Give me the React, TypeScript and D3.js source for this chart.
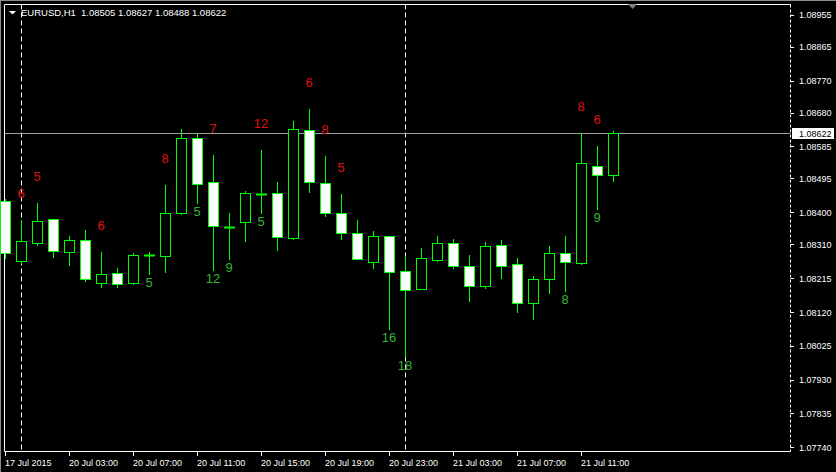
import React from 'react';
import * as d3 from 'd3';

// EURUSD H1 bars, 17 Jul 23:00 .. 21 Jul 13:00
const opens = [1.08432, 1.08262, 1.08313, 1.08380, 1.08288, 1.08321, 1.08202, 1.08229, 1.08202, 1.08280,
  1.08278, 1.08399, 1.08608, 1.08484, 1.08360, 1.08372, 1.08452, 1.08453, 1.08329, 1.08630,
  1.08481, 1.08397, 1.08341, 1.08261, 1.08333, 1.08234, 1.08185, 1.08267, 1.08313, 1.08248,
  1.08194, 1.08307, 1.08254, 1.08146, 1.08214, 1.08285, 1.08258, 1.08529, 1.08505];
const highs = [1.08437, 1.08378, 1.08425, 1.08381, 1.08334, 1.08350, 1.08289, 1.08244, 1.08286, 1.08289,
  1.08477, 1.08634, 1.08620, 1.08561, 1.08397, 1.08460, 1.08575, 1.08484, 1.08656, 1.08690,
  1.08558, 1.08451, 1.08378, 1.08348, 1.08334, 1.08277, 1.08300, 1.08334, 1.08325, 1.08280,
  1.08317, 1.08322, 1.08272, 1.08221, 1.08305, 1.08334, 1.08624, 1.08586, 1.08627];
const lows = [1.08273, 1.08258, 1.08307, 1.08274, 1.08253, 1.08208, 1.08191, 1.08191, 1.08199, 1.08227,
  1.08232, 1.08395, 1.08427, 1.08238, 1.08269, 1.08320, 1.08399, 1.08294, 1.08325, 1.08458,
  1.08390, 1.08326, 1.08269, 1.08244, 1.08072, 1.07994, 1.08184, 1.08263, 1.08244, 1.08151,
  1.08188, 1.08215, 1.08120, 1.08100, 1.08173, 1.08180, 1.08255, 1.08410, 1.08488];
const closes = [1.08285, 1.08319, 1.08375, 1.08291, 1.08321, 1.08214, 1.08226, 1.08200, 1.08280, 1.08279,
  1.08397, 1.08608, 1.08479, 1.08361, 1.08360, 1.08453, 1.08452, 1.08330, 1.08633, 1.08484,
  1.08397, 1.08341, 1.08270, 1.08333, 1.08233, 1.08181, 1.08271, 1.08313, 1.08250, 1.08194,
  1.08305, 1.08250, 1.08146, 1.08212, 1.08285, 1.08261, 1.08538, 1.08504, 1.08622];

// counts printed above highs (red) and below lows (green)
const upperIdx = [1, 2, 6, 10, 13, 16, 19, 20, 21, 36, 37];
const upperText = ['6', '5', '6', '8', '7', '12', '6', '8', '5', '8', '6'];
const lowerIdx = [9, 12, 13, 14, 16, 24, 25, 35, 37];
const lowerText = ['5', '5', '12', '9', '5', '16', '18', '8', '9'];

const priceTicks = [1.08955, 1.08865, 1.08770, 1.08680, 1.08585, 1.08495, 1.08400,
  1.08310, 1.08215, 1.08120, 1.08025, 1.07930, 1.07835, 1.07740];
const timeTickIdx = [0, 4, 8, 12, 16, 20, 24, 28, 32, 36];
const timeTickText = ['17 Jul 2015', '20 Jul 03:00', '20 Jul 07:00', '20 Jul 11:00', '20 Jul 15:00',
  '20 Jul 19:00', '20 Jul 23:00', '21 Jul 03:00', '21 Jul 07:00', '21 Jul 11:00'];
const daySeparators = [1, 25];

const symbol = 'EURUSD,H1';
const lastPrice = 1.08622;

const W = 836;
const H = 472;
const frame = { left: 4.5, top: 4.5, right: 790.5, bottom: 451.5 };
const font = "'Liberation Sans', Arial, sans-serif";

const App: React.FC = () => {
  const x = d3.scaleLinear().domain([0, opens.length - 1]).range([5, 5 + 16 * (opens.length - 1)]);
  const y = d3.scaleLinear().domain([1.07740, 1.08955]).range([447.3, 14.7]);
  const py = (v: number) => Math.round(y(v)) + 0.5;
  const last = opens.length - 1;

  return (
    <svg width={W} height={H} style={{ position: 'absolute', left: 0, top: 0, background: '#000' }}>
      <rect x={0} y={0} width={W} height={H} fill="#000" />
      <line x1={0} x2={W} y1={0.5} y2={0.5} stroke="#8c8c8c" />
      <line x1={0.5} x2={0.5} y1={0} y2={H} stroke="#8c8c8c" />

      {/* period separators */}
      {daySeparators.map(i => (
        <line key={'sep' + i} x1={Math.round(x(i)) + 0.5} x2={Math.round(x(i)) + 0.5}
          y1={frame.top} y2={frame.bottom} stroke="#fff" strokeDasharray="5,3" />
      ))}

      {/* last price line */}
      <line x1={frame.left} x2={frame.right} y1={py(lastPrice)} y2={py(lastPrice)} stroke="#a0a0a0" />

      {/* wicks */}
      {opens.map((o, i) => (
        <line key={'w' + i} x1={Math.round(x(i)) + 0.5} x2={Math.round(x(i)) + 0.5}
          y1={Math.round(y(highs[i]))} y2={Math.round(y(lows[i])) + 1} stroke="#00ff00" />
      ))}

      {/* bodies */}
      {opens.map((o, i) => {
        const c = closes[i];
        const cx = Math.round(x(i));
        const top = py(Math.max(o, c));
        const bot = py(Math.min(o, c));
        if (bot - top < 1) {
          return <line key={'b' + i} x1={cx - 5} x2={cx + 6} y1={top} y2={top} stroke="#00ff00" strokeWidth={2} />;
        }
        return (
          <rect key={'b' + i} x={cx - 4.5} y={top} width={10} height={bot - top}
            fill={c >= o ? '#000' : '#fff'} stroke="#00ff00" />
        );
      })}

      {/* counts */}
      {upperIdx.map((i, k) => (
        <text key={'u' + k} x={x(i)} y={y(highs[i]) - 22} textAnchor="middle"
          fontFamily={font} fontSize={13} fill="#e01010">{upperText[k]}</text>
      ))}
      {lowerIdx.map((i, k) => (
        <text key={'l' + k} x={x(i)} y={y(lows[i]) + 13} textAnchor="middle"
          fontFamily={font} fontSize={13} fill="#34b43c">{lowerText[k]}</text>
      ))}

      {/* frame */}
      <line x1={frame.left} x2={frame.right} y1={frame.top} y2={frame.top} stroke="#fff" />
      <line x1={frame.left} x2={frame.left} y1={frame.top} y2={frame.bottom} stroke="#fff" />
      <line x1={frame.left} x2={frame.right} y1={frame.bottom} y2={frame.bottom} stroke="#fff" />
      <line x1={frame.right} x2={frame.right} y1={frame.top} y2={frame.bottom} stroke="#fff" strokeDasharray="3,2" />

      {/* chart shift marker */}
      <polygon points="628,4 637,4 632.5,9" fill="#808080" />

      {/* header */}
      <polygon points="9,11 16,11 12.5,14.5" fill="#fff" />
      <text x={21} y={16} fontFamily={font} fontSize={9.5} fill="#fff">{symbol}</text>
      <text x={81} y={16} fontFamily={font} fontSize={9.5} fill="#fff">
        {[opens[last], highs[last], lows[last], closes[last]].map(v => v.toFixed(5)).join(' ')}
      </text>

      {/* price axis */}
      {priceTicks.map(v => (
        <g key={'p' + v}>
          <line x1={frame.right} x2={794} y1={py(v)} y2={py(v)} stroke="#fff" />
          <text x={799} y={y(v) + 3.5} fontFamily={font} fontSize={9} fill="#fff">{v.toFixed(5)}</text>
        </g>
      ))}
      <rect x={792} y={py(lastPrice) - 5.5} width={42} height={11} fill="#fff" />
      <text x={799} y={y(lastPrice) + 3.5} fontFamily={font} fontSize={9} fill="#000">{lastPrice.toFixed(5)}</text>

      {/* time axis */}
      {timeTickIdx.map((i, k) => (
        <g key={'t' + i}>
          <line x1={Math.round(x(i)) + 0.5} x2={Math.round(x(i)) + 0.5} y1={frame.bottom} y2={456} stroke="#fff" />
          <text x={x(i)} y={466} fontFamily={font} fontSize={9} fill="#fff">{timeTickText[k]}</text>
        </g>
      ))}
    </svg>
  );
};

export default App;
